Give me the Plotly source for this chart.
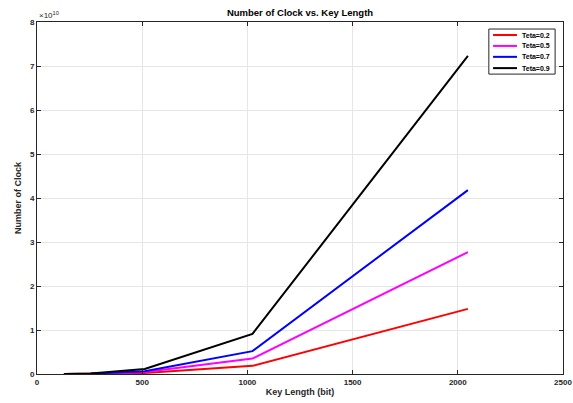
import plotly.graph_objects as go

key_length = [128, 256, 512, 1024, 2048]
teta_names = ["Teta=0.2", "Teta=0.5", "Teta=0.7", "Teta=0.9"]
clocks_02 = [0.0004e10, 0.003e10, 0.023e10, 0.185e10, 1.48e10]
clocks_05 = [0.0007e10, 0.0054e10, 0.043e10, 0.35e10, 2.77e10]
clocks_07 = [0.001e10, 0.008e10, 0.065e10, 0.52e10, 4.18e10]
clocks_09 = [0.0018e10, 0.014e10, 0.114e10, 0.91e10, 7.23e10]
colors = ["#ff0000", "#ff00ff", "#0000ff", "#000000"]
x_ticks = [0, 500, 1000, 1500, 2000, 2500]
y_ticks = [0, 1, 2, 3, 4, 5, 6, 7, 8]

series = [clocks_02, clocks_05, clocks_07, clocks_09]
scale = 1e10

fig = go.Figure()
for name, vals, c in zip(teta_names, series, colors):
    fig.add_trace(go.Scatter(x=key_length, y=[v / scale for v in vals], mode="lines",
                             name=name, line=dict(color=c, width=2), showlegend=False))

font = "Liberation Sans, Arial, sans-serif"
axis_common = dict(showline=True, linecolor="#262626", linewidth=1, mirror="ticks",
                   ticks="inside", ticklen=4, tickcolor="#262626", automargin=False,
                   showgrid=True, gridcolor="#e6e6e6", gridwidth=1, zeroline=False,
                   tickfont=dict(family=font, size=8, color="#262626", weight="bold"))

fig.update_layout(
    width=573, height=403,
    margin=dict(l=37, r=10, t=22, b=29),
    paper_bgcolor="white", plot_bgcolor="white",
    title=dict(text="<b>Number of Clock vs. Key Length</b>", x=0.5, xref="paper",
               y=0.98, yanchor="top", pad=dict(t=1), automargin=False,
               font=dict(family=font, size=9.5, color="#000000")),
    xaxis=dict(range=[0, 2500], tickvals=x_ticks, ticktext=[str(t) for t in x_ticks],
               title=dict(text="<b>Key Length (bit)</b>", standoff=3,
                          font=dict(family=font, size=9, color="#262626")),
               **axis_common),
    yaxis=dict(range=[0, 8], tickvals=y_ticks, ticktext=[str(t) for t in y_ticks],
               title=dict(text="<b>Number of Clock</b>", standoff=6,
                          font=dict(family=font, size=9, color="#262626")),
               **axis_common),
    showlegend=False,
)

# Compact MATLAB-style legend
fig.add_shape(type="rect", xref="paper", yref="paper", x0=0.859, x1=0.985, y0=0.852, y1=0.980,
              line=dict(color="#262626", width=1), fillcolor="white", layer="above")
leg_y = [0.963, 0.932, 0.901, 0.869]
for name, c, ly in zip(teta_names, colors, leg_y):
    fig.add_shape(type="line", xref="paper", yref="paper", x0=0.867, x1=0.9125, y0=ly, y1=ly,
                  line=dict(color=c, width=2), layer="above")
    fig.add_annotation(text="<b>" + name + "</b>", xref="paper", yref="paper", x=0.918, y=ly,
                       xanchor="left", yanchor="middle", showarrow=False,
                       font=dict(family=font, size=7, color="#000000"))

fig.add_annotation(text="×10<sup>10</sup>", xref="paper", yref="paper", x=0.0, y=1.0,
                   xanchor="left", yanchor="bottom", showarrow=False, xshift=0, yshift=0,
                   font=dict(family=font, size=8, color="#262626"))
fig.write_html("out.html", config={"displayModeBar": False},
               post_script="document.body.style.margin='0px';")
